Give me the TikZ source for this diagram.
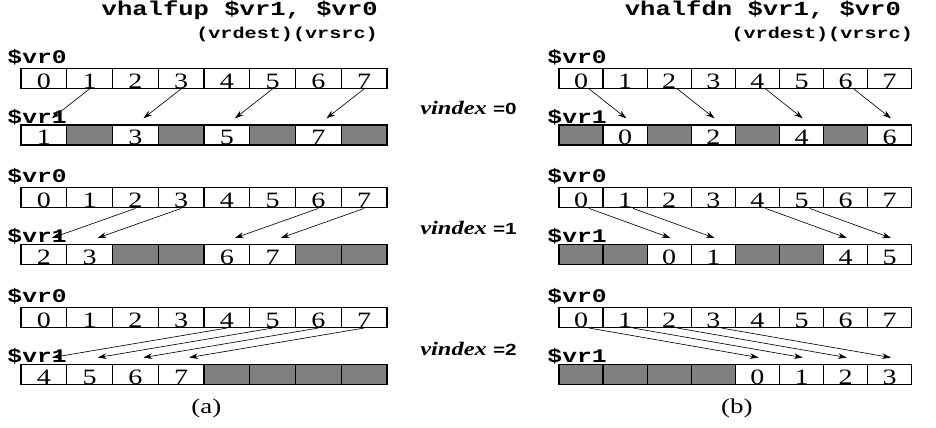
\documentclass[tikz,border=0pt]{standalone}
\usepackage{fontspec}
\usetikzlibrary{arrows.meta}
\setmainfont{Liberation Serif}[FakeStretch=1.28]
\newfontfamily\regfont{Liberation Mono}[FakeStretch=1.28]
\newfontfamily\eqfont{Liberation Sans}[FakeStretch=1.28]

\tikzset{
  cell/.style={rectangle,draw,line width=0.9pt,fill=white,inner sep=0pt,
    minimum width=1.144cm,text height=0.5cm,text depth=0pt,
    font=\fontsize{15.6}{16}\selectfont},
  hole/.style={cell,fill=black!50},
  reg/.style={anchor=base west,inner sep=0pt,font=\regfont\bfseries\fontsize{13.7}{14}\selectfont},
  instr/.style={anchor=base east,inner sep=0pt,font=\regfont\bfseries\fontsize{14.2}{15}\selectfont},
  operands/.style={anchor=base east,inner sep=0pt,font=\regfont\bfseries\fontsize{11.2}{12}\selectfont},
  idx/.style={anchor=base west,inner sep=0pt,font=\bfseries\itshape\fontsize{13.6}{14}\selectfont},
  move/.style={-{Stealth[length=2.2mm,width=1.4mm]},line width=0.45pt},
}

\begin{document}
\begin{tikzpicture}
    \useasboundingbox (0,0) rectangle (23.4,10.675);
    %\draw [very thin, green] (0,0) grid (23,10);

    % instruction headers
    \node[instr] (upname) at (9.45,10.275) {vhalfup \$vr1, \$vr0};
    \node[operands] (upops) at (9.45,9.7125) {(vrdest)(vrsrc)};
    \node[instr] (dnname) at (22.53,10.275) {vhalfdn \$vr1, \$vr0};
    \node[operands] (dnops) at (22.83,9.7125) {(vrdest)(vrsrc)};

    % (a) vhalfup: upper half of each block moves down
    \foreach \g/\keep in {0/{0/1,2/3,4/5,6/7}, 1/{0/2,1/3,4/6,5/7}, 2/{0/4,1/5,2/6,3/7}} {
        \foreach \j in {0,...,7} {
            \node[cell] (src-a\g-\j) at (1.097+1.144*\j, 8.72-2.99*\g) {\j};
            \node[hole] (gap-a\g-\j) at (1.097+1.144*\j, 7.30-2.99*\g) {};
        }
        \foreach \j/\k in \keep {
            \node[cell] (dst-a\g-\j) at (1.097+1.144*\j, 7.30-2.99*\g) {\k};
            \draw[move] (src-a\g-\k.south) -- ([xshift=0.2cm,yshift=0.15cm]dst-a\g-\j.north);
        }
    }

    % (b) vhalfdn: lower half of each block moves up
    \begin{scope}[cell/.append style={minimum width=1.1025cm}]
    \foreach \g/\keep in {0/{1/0,3/2,5/4,7/6}, 1/{2/0,3/1,6/4,7/5}, 2/{4/0,5/1,6/2,7/3}} {
        \foreach \j in {0,...,7} {
            \node[cell] (src-b\g-\j) at (14.526+1.1025*\j, 8.72-2.99*\g) {\j};
            \node[hole] (gap-b\g-\j) at (14.526+1.1025*\j, 7.30-2.99*\g) {};
        }
        \foreach \j/\k in \keep {
            \node[cell] (dst-b\g-\j) at (14.526+1.1025*\j, 7.30-2.99*\g) {\k};
            \draw[move] ([xshift=0.2cm]src-b\g-\k.south) -- ([xshift=0.03cm,yshift=0.15cm]dst-b\g-\j.north);
        }
    }
    \end{scope}

    % register names and vindex values
    \foreach \g in {0,1,2} {
        \node[reg] (vr0-a\g) at (0.18,9.09-2.99*\g) {\$vr0};
        \node[reg] (vr1-a\g) at (0.18,7.59-2.99*\g) {\$vr1};
        \node[reg] (vr0-b\g) at (13.68,9.09-2.99*\g) {\$vr0};
        \node[reg] (vr1-b\g) at (13.68,7.59-2.99*\g) {\$vr1};
        \node[idx] (vidx\g) at (10.5,7.8-3*\g) {vindex {\eqfont\upshape\fontsize{11.5}{12}\selectfont =\g}};
    }

    \node[anchor=base,font=\fontsize{15}{16}\selectfont] (capa) at (5.16,0.33) {(a)};
    \node[anchor=base,font=\fontsize{15}{16}\selectfont] (capb) at (18.42,0.33) {(b)};
\end{tikzpicture}
\end{document}
